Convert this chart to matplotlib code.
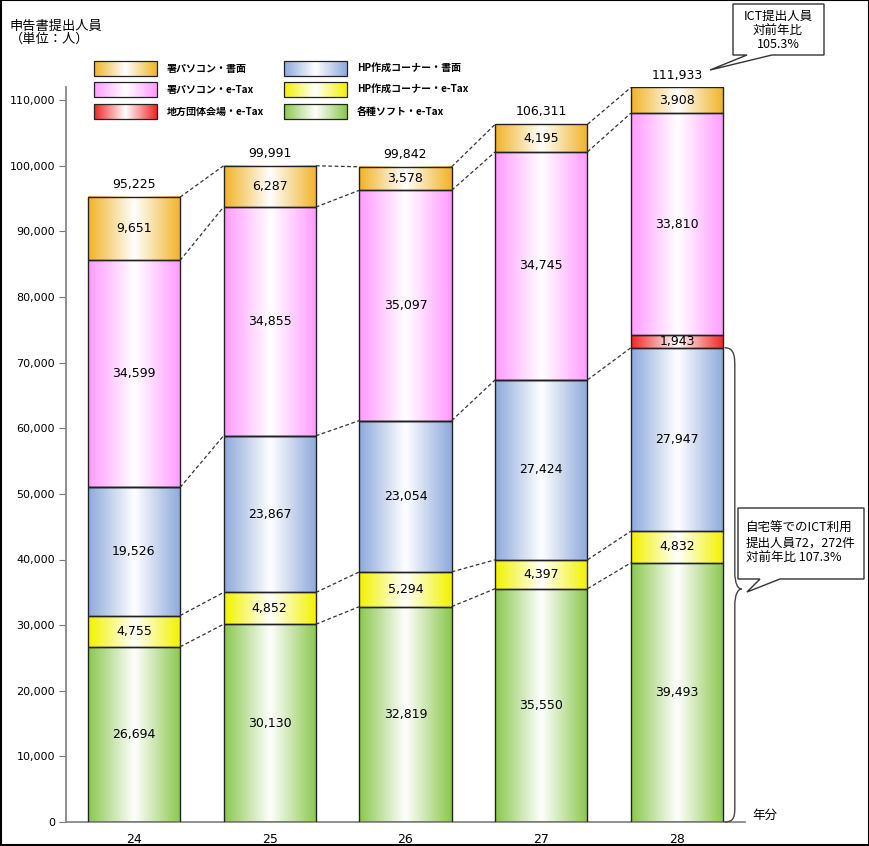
import numpy as np
import matplotlib
matplotlib.use('Agg')
import matplotlib.pyplot as plt
from matplotlib.colors import LinearSegmentedColormap
from matplotlib.patches import Rectangle, Polygon, PathPatch
from matplotlib.path import Path

plt.rcParams['font.family'] = ['Noto Sans CJK JP', 'DejaVu Sans']

years = ['24', '25', '26', '27', '28']
# stacked from the bottom up
layer_names = ['各種ソフト・e-Tax', 'HP作成コーナー・e-Tax', 'HP作成コーナー・書面',
               '地方団体会場・e-Tax', '署パソコン・e-Tax', '署パソコン・書面']
soft_etax = [26694, 30130, 32819, 35550, 39493]
hp_etax = [4755, 4852, 5294, 4397, 4832]
hp_paper = [19526, 23867, 23054, 27424, 27947]
local_etax = [0, 0, 0, 0, 1943]
office_etax = [34599, 34855, 35097, 34745, 33810]
office_paper = [9651, 6287, 3578, 4195, 3908]
totals = [95225, 99991, 99842, 106311, 111933]
layer_colors = ['#8CC850', '#F2F200', '#8FAADC', '#F02828', '#FF9CFF', '#F0B42A']

layers = [soft_etax, hp_etax, hp_paper, local_etax, office_etax, office_paper]


def grad_cmap(c):
    return LinearSegmentedColormap.from_list('g', [c, 'white', c])


def grad_rect(ax, x0, x1, y0, y1, c, z=2, **kw):
    g = np.linspace(0, 1, 64).reshape(1, -1)
    ax.imshow(g, cmap=grad_cmap(c), extent=(x0, x1, y0, y1), aspect='auto',
              interpolation='bilinear', zorder=z, **kw)


fig = plt.figure(figsize=(8.7, 8.46), dpi=100)
ax = fig.add_axes([66 / 870, 1 - 822 / 846, (745 - 66) / 870, (822 - 87) / 846])

x = np.arange(len(years))
w = 0.68
bottom = np.zeros(len(years))
cums = []
for vals, c in zip(layers, layer_colors):
    vals = np.array(vals)
    bars = ax.bar(x, vals, w, bottom=bottom, facecolor='none',
                  edgecolor='#222222', linewidth=1.0, zorder=3)
    for b, v in zip(bars, vals):
        if v <= 0:
            continue
        grad_rect(ax, b.get_x(), b.get_x() + b.get_width(),
                  b.get_y(), b.get_y() + b.get_height(), c)
        ax.text(b.get_x() + b.get_width() / 2, b.get_y() + b.get_height() / 2,
                f'{v:,}', ha='center', va='center', fontsize=9, zorder=4,
                family='DejaVu Sans')
    bottom = bottom + vals
    cums.append(bottom.copy())

# dashed connectors between neighbouring bars
for li in [0, 1, 2, 4, 5]:
    cy = cums[li]
    for i in range(len(years) - 1):
        ax.plot([x[i] + w / 2, x[i + 1] - w / 2], [cy[i], cy[i + 1]],
                ls=(0, (3, 2)), color='#333333', lw=0.9, zorder=3)

for i, t in enumerate(totals):
    ax.text(x[i], t + 900, f'{t:,}', ha='center', va='bottom', fontsize=9,
            family='DejaVu Sans', clip_on=False)

ax.set_xlim(-0.5, 4.5)
ax.set_ylim(0, 112000)
ax.set_yticks(np.arange(0, 110001, 10000))
ax.set_yticklabels([f'{v:,}' for v in range(0, 110001, 10000)],
                   family='DejaVu Sans', fontsize=8)
ax.set_xticks(x)
ax.set_xticklabels(years, family='DejaVu Sans', fontsize=9)
ax.tick_params(axis='y', length=5, color='#777777', pad=3)
ax.tick_params(axis='x', length=0, pad=8)
for s in ['top', 'right']:
    ax.spines[s].set_visible(False)
for s in ['left', 'bottom']:
    ax.spines[s].set_color('#888888')
    ax.spines[s].set_linewidth(1.3)

# curly brace beside the last bar (0 .. 72,272)
top_ict = cums[2][4]
xb0 = x[4] + w / 2 + 0.01
xb1 = xb0 + 0.075
ymid = 35500
verts = [(xb0, top_ict), (xb1, top_ict), (xb1, top_ict - 1500), (xb1, top_ict - 3000),
         (xb1, ymid + 2500),
         (xb1, ymid + 1000), (xb1 + 0.02, ymid), (xb1 + 0.05, ymid),
         (xb1 + 0.02, ymid), (xb1, ymid - 1000), (xb1, ymid - 2500),
         (xb1, 2500),
         (xb1, 1000), (xb1, 0), (xb0, 0)]
codes = [Path.MOVETO, Path.CURVE4, Path.CURVE4, Path.CURVE4, Path.LINETO,
         Path.CURVE4, Path.CURVE4, Path.CURVE4,
         Path.CURVE4, Path.CURVE4, Path.CURVE4, Path.LINETO,
         Path.CURVE4, Path.CURVE4, Path.CURVE4]
ax.add_patch(PathPatch(Path(verts, codes), facecolor='none', edgecolor='#444444',
                       lw=1.0, clip_on=False, zorder=5))

# overlay in pixel coordinates for title, legend and callouts
ov = fig.add_axes([0, 0, 1, 1], zorder=10)
ov.set_xlim(0, 870)
ov.set_ylim(846, 0)
ov.axis('off')
ov.patch.set_alpha(0)

ov.add_patch(Rectangle((0.5, 0.5), 869, 845, fill=False, edgecolor='black', lw=1.5))
ov.text(10, 20, '申告書提出人員\n（単位：人）', ha='left', va='top', fontsize=9.5,
        linespacing=1.0)
ov.text(752, 815, '年分', ha='left', va='center', fontsize=9)

legend_rows = [(94, 61), (94, 82), (94, 104), (284, 61), (284, 82), (284, 104)]
legend_idx = [5, 4, 3, 2, 1, 0]
for (lx, ly), li in zip(legend_rows, legend_idx):
    grad_rect(ov, lx, lx + 63, ly + 15, ly, layer_colors[li], z=11)
    ov.add_patch(Rectangle((lx, ly), 63, 15, fill=False, edgecolor='#222222',
                           lw=0.9, zorder=12))
    ov.text(lx + 73, ly + 8, layer_names[li], ha='left', va='center',
            fontsize=7.2, fontweight='bold', zorder=12)
ov.set_xlim(0, 870)
ov.set_ylim(846, 0)

# callout 1
ov.add_patch(Polygon([(733, 4), (824, 4), (824, 55), (772, 55), (710, 70),
                      (747, 55), (733, 55)], closed=True, facecolor='white',
                     edgecolor='#333333', lw=1.0, zorder=12))
ov.text(778, 30, 'ICT提出人員\n対前年比\n105.3%', ha='center', va='center',
        fontsize=9, linespacing=1.1, zorder=13)

# callout 2
ov.add_patch(Polygon([(738, 508), (864, 508), (864, 579), (780, 579), (747, 592),
                      (760, 579), (738, 579)], closed=True, facecolor='white',
                     edgecolor='#333333', lw=1.0, zorder=12))
ov.text(746, 543, '自宅等でのICT利用\n提出人員72，272件\n対前年比 107.3%',
        ha='left', va='center', fontsize=9, linespacing=1.15, zorder=13)

fig.savefig('out.png', dpi=100)
